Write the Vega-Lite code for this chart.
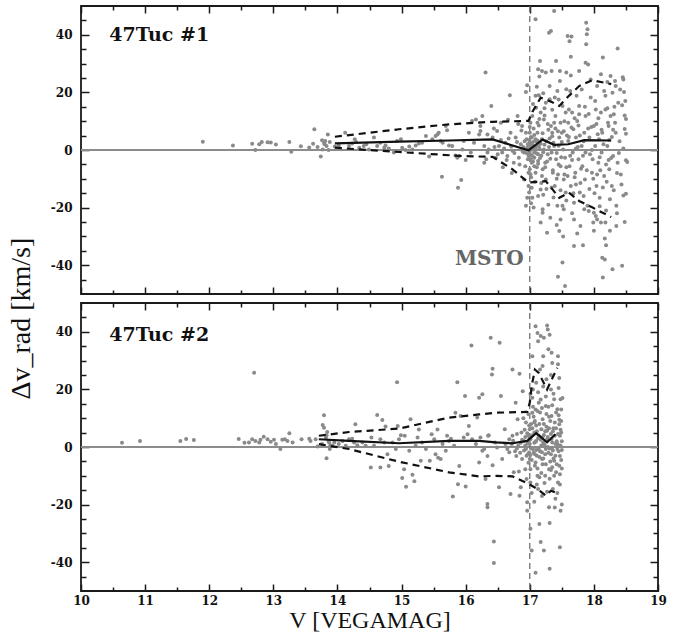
{
"$schema": "https://vega.github.io/schema/vega-lite/v6.json",
"padding": {"left": 8, "top": 4, "right": 5, "bottom": 5},
"background": "white",
"title": {"text": "Δv_rad [km/s]", "orient": "left", "anchor": "middle", "font": "Liberation Serif", "fontSize": 28, "fontWeight": "normal", "color": "#111", "offset": 13},
"spacing": 5,
"datasets": {
"pts": [
{"p":1,"V":11.90,"dv":2.9},{"p":1,"V":12.37,"dv":1.6},{"p":1,"V":12.67,"dv":2.2},{"p":1,"V":12.72,"dv":0.0},{"p":1,"V":12.78,"dv":2.0},{"p":1,"V":12.82,"dv":2.8},{"p":1,"V":12.91,"dv":2.7},{"p":1,"V":12.96,"dv":2.6},{"p":1,"V":13.04,"dv":1.9},{"p":1,"V":13.25,"dv":2.8},{"p":1,"V":13.28,"dv":-0.6},{"p":1,"V":13.43,"dv":1.3},{"p":1,"V":13.56,"dv":0.9},{"p":1,"V":13.62,"dv":2.2},{"p":1,"V":13.64,"dv":7.2},{"p":1,"V":13.69,"dv":1.0},{"p":1,"V":13.74,"dv":-2.3},{"p":1,"V":13.76,"dv":3.4},{"p":1,"V":13.77,"dv":0.2},{"p":1,"V":13.79,"dv":2.5},{"p":1,"V":13.80,"dv":2.0},{"p":1,"V":13.81,"dv":3.1},{"p":1,"V":13.83,"dv":1.4},{"p":1,"V":13.85,"dv":5.4},{"p":1,"V":13.86,"dv":0.0},{"p":1,"V":13.88,"dv":2.8},{"p":1,"V":13.96,"dv":1.2},{"p":1,"V":14.02,"dv":1.6},{"p":1,"V":14.12,"dv":6.0},{"p":1,"V":14.18,"dv":1.4},{"p":1,"V":14.23,"dv":2.3},{"p":1,"V":14.27,"dv":3.7},{"p":1,"V":14.29,"dv":2.8},{"p":1,"V":14.34,"dv":0.8},{"p":1,"V":14.41,"dv":1.4},{"p":1,"V":14.45,"dv":2.0},{"p":1,"V":14.49,"dv":0.2},{"p":1,"V":14.57,"dv":4.3},{"p":1,"V":14.62,"dv":1.4},{"p":1,"V":14.67,"dv":2.5},{"p":1,"V":14.73,"dv":0.8},{"p":1,"V":14.75,"dv":1.6},{"p":1,"V":14.80,"dv":0.5},{"p":1,"V":14.88,"dv":-0.9},{"p":1,"V":14.93,"dv":3.1},{"p":1,"V":14.99,"dv":3.7},{"p":1,"V":15.01,"dv":0.8},{"p":1,"V":15.06,"dv":0.0},{"p":1,"V":15.12,"dv":1.2},{"p":1,"V":15.17,"dv":0.2},{"p":1,"V":15.22,"dv":1.6},{"p":1,"V":15.27,"dv":2.3},{"p":1,"V":15.32,"dv":2.5},{"p":1,"V":15.38,"dv":4.9},{"p":1,"V":15.43,"dv":-2.3},{"p":1,"V":15.48,"dv":3.7},{"p":1,"V":15.53,"dv":4.9},{"p":1,"V":15.56,"dv":5.4},{"p":1,"V":15.58,"dv":6.0},{"p":1,"V":15.61,"dv":3.1},{"p":1,"V":15.63,"dv":-9.3},{"p":1,"V":15.64,"dv":2.5},{"p":1,"V":15.69,"dv":8.3},{"p":1,"V":15.71,"dv":6.9},{"p":1,"V":15.74,"dv":1.6},{"p":1,"V":15.79,"dv":1.4},{"p":1,"V":15.84,"dv":-1.9},{"p":1,"V":15.87,"dv":-2.7},{"p":1,"V":15.88,"dv":-13.1},{"p":1,"V":15.90,"dv":-2.1},{"p":1,"V":15.93,"dv":-10.4},{"p":1,"V":15.95,"dv":0.2},{"p":1,"V":15.97,"dv":3.1},{"p":1,"V":16.00,"dv":-3.5},{"p":1,"V":16.05,"dv":6.0},{"p":1,"V":16.08,"dv":-0.9},{"p":1,"V":16.10,"dv":10.1},{"p":1,"V":16.13,"dv":2.5},{"p":1,"V":16.16,"dv":10.6},{"p":1,"V":16.21,"dv":5.4},{"p":1,"V":16.23,"dv":6.6},{"p":1,"V":16.26,"dv":11.8},{"p":1,"V":16.29,"dv":1.4},{"p":1,"V":16.31,"dv":26.9},{"p":1,"V":16.32,"dv":-3.2},{"p":1,"V":16.34,"dv":-0.9},
{"p":1,"V":16.40,"dv":15.3},{"p":1,"V":16.23,"dv":8.3},{"p":1,"V":16.34,"dv":5.4},{"p":1,"V":16.42,"dv":4.3},{"p":1,"V":16.49,"dv":6.6},{"p":1,"V":16.52,"dv":1.4},{"p":1,"V":16.57,"dv":-0.9},{"p":1,"V":16.62,"dv":2.5},{"p":1,"V":16.69,"dv":19.0},{"p":1,"V":16.70,"dv":6.0},{"p":1,"V":16.73,"dv":-0.3},{"p":1,"V":16.75,"dv":-4.4},{"p":1,"V":16.78,"dv":4.3},{"p":1,"V":16.81,"dv":11.8},{"p":1,"V":16.83,"dv":-2.7},{"p":1,"V":16.86,"dv":2.0},{"p":1,"V":16.88,"dv":8.3},{"p":1,"V":16.91,"dv":-0.9},{"p":1,"V":16.93,"dv":-5.6},{"p":1,"V":16.94,"dv":20.1},{"p":1,"V":16.94,"dv":-19.4},{"p":1,"V":16.95,"dv":3.7},{"p":1,"V":16.96,"dv":22.5},{"p":1,"V":16.96,"dv":0.8},{"p":1,"V":16.97,"dv":-3.2},{"p":1,"V":16.98,"dv":-7.9},{"p":1,"V":16.98,"dv":-12.5},{"p":1,"V":16.96,"dv":-16.6},{"p":1,"V":16.94,"dv":6.0},{"p":1,"V":16.91,"dv":-10.2},{"p":1,"V":16.36,"dv":0.2},{"p":1,"V":16.47,"dv":-2.7},{"p":1,"V":16.29,"dv":-4.4},{"p":1,"V":16.55,"dv":9.5},{"p":1,"V":16.65,"dv":-2.1},
{"p":1,"V":17.00,"dv":6.0},{"p":1,"V":17.00,"dv":2.5},{"p":1,"V":17.01,"dv":0.2},{"p":1,"V":17.00,"dv":-1.5},{"p":1,"V":17.01,"dv":-3.2},{"p":1,"V":17.03,"dv":-4.4},{"p":1,"V":17.00,"dv":-6.7},{"p":1,"V":17.01,"dv":-8.4},{"p":1,"V":17.03,"dv":-13.1},{"p":1,"V":16.99,"dv":-14.8},{"p":1,"V":17.04,"dv":-16.6},{"p":1,"V":17.01,"dv":9.5},{"p":1,"V":17.04,"dv":11.8},{"p":1,"V":17.03,"dv":4.3},{"p":1,"V":17.05,"dv":1.4},{"p":1,"V":17.07,"dv":-0.9},{"p":1,"V":17.07,"dv":-2.7},{"p":1,"V":17.07,"dv":-5.6},{"p":1,"V":17.09,"dv":3.7},{"p":1,"V":17.09,"dv":0.8},{"p":1,"V":17.09,"dv":-7.9},{"p":1,"V":17.09,"dv":45.4},{"p":1,"V":17.09,"dv":18.8},{"p":1,"V":17.10,"dv":14.7},{"p":1,"V":17.12,"dv":9.5},{"p":1,"V":17.12,"dv":6.0},{"p":1,"V":17.13,"dv":-1.5},{"p":1,"V":17.13,"dv":-3.8},{"p":1,"V":17.13,"dv":28.0},{"p":1,"V":17.14,"dv":19.0},{"p":1,"V":17.14,"dv":1.4},{"p":1,"V":17.16,"dv":30.9},{"p":1,"V":17.15,"dv":25.5},{"p":1,"V":17.17,"dv":-25.2},{"p":1,"V":17.17,"dv":13.0},{"p":1,"V":17.17,"dv":-13.7},{"p":1,"V":17.19,"dv":27.4},{"p":1,"V":17.19,"dv":3.7},{"p":1,"V":17.20,"dv":-20.6},{"p":1,"V":17.20,"dv":-21.8},{"p":1,"V":17.20,"dv":-6.7},{"p":1,"V":17.21,"dv":19.7},{"p":1,"V":17.22,"dv":10.6},{"p":1,"V":17.22,"dv":0.2},{"p":1,"V":17.24,"dv":-4.4},{"p":1,"V":17.25,"dv":26.9},{"p":1,"V":17.25,"dv":16.4},{"p":1,"V":17.25,"dv":-10.2},
{"p":1,"V":17.27,"dv":-28.7},{"p":1,"V":17.30,"dv":40.7},{"p":1,"V":17.31,"dv":22.2},{"p":1,"V":17.31,"dv":17.6},{"p":1,"V":17.33,"dv":41.3},{"p":1,"V":17.34,"dv":27.4},{"p":1,"V":17.33,"dv":8.3},{"p":1,"V":17.34,"dv":-0.9},{"p":1,"V":17.35,"dv":6.0},{"p":1,"V":17.36,"dv":-7.9},{"p":1,"V":17.38,"dv":48.3},{"p":1,"V":17.38,"dv":1.4},{"p":1,"V":17.39,"dv":18.2},{"p":1,"V":17.39,"dv":-12.5},{"p":1,"V":17.40,"dv":11.8},{"p":1,"V":17.41,"dv":30.9},{"p":1,"V":17.41,"dv":-3.2},{"p":1,"V":17.43,"dv":20.5},{"p":1,"V":17.43,"dv":-19.4},{"p":1,"V":17.44,"dv":-44.0},{"p":1,"V":17.46,"dv":-28.1},{"p":1,"V":17.46,"dv":4.3},{"p":1,"V":17.47,"dv":24.0},{"p":1,"V":17.47,"dv":27.4},{"p":1,"V":17.48,"dv":-5.6},{"p":1,"V":17.48,"dv":9.5},{"p":1,"V":17.51,"dv":15.3},{"p":1,"V":17.51,"dv":-19.4},{"p":1,"V":17.51,"dv":-39.1},{"p":1,"V":17.52,"dv":0.2},{"p":1,"V":17.53,"dv":-20.6},{"p":1,"V":17.53,"dv":-10.2},{"p":1,"V":17.55,"dv":-47.2},{"p":1,"V":17.56,"dv":13.0},{"p":1,"V":17.57,"dv":21.1},{"p":1,"V":17.57,"dv":26.9},{"p":1,"V":17.55,"dv":-2.7},{"p":1,"V":17.56,"dv":-14.8},{"p":1,"V":17.48,"dv":-24.1},
{"p":1,"V":17.59,"dv":39.6},{"p":1,"V":17.60,"dv":3.1},{"p":1,"V":17.61,"dv":14.1},{"p":1,"V":17.62,"dv":37.8},{"p":1,"V":17.62,"dv":-5.6},{"p":1,"V":17.64,"dv":32.4},{"p":1,"V":17.64,"dv":25.9},{"p":1,"V":17.64,"dv":-12.5},{"p":1,"V":17.65,"dv":39.4},{"p":1,"V":17.65,"dv":7.8},{"p":1,"V":17.66,"dv":13.0},{"p":1,"V":17.67,"dv":-0.9},{"p":1,"V":17.69,"dv":-33.3},{"p":1,"V":17.69,"dv":-24.1},{"p":1,"V":17.69,"dv":-18.3},{"p":1,"V":17.71,"dv":-7.9},{"p":1,"V":17.72,"dv":4.3},{"p":1,"V":17.73,"dv":18.8},{"p":1,"V":17.74,"dv":10.1},{"p":1,"V":17.76,"dv":-3.2},{"p":1,"V":17.77,"dv":27.4},{"p":1,"V":17.77,"dv":15.3},{"p":1,"V":17.77,"dv":12.4},{"p":1,"V":17.78,"dv":-14.8},{"p":1,"V":17.79,"dv":-26.4},{"p":1,"V":17.81,"dv":1.4},{"p":1,"V":17.82,"dv":-5.6},{"p":1,"V":17.83,"dv":-33.1},{"p":1,"V":17.85,"dv":6.0},{"p":1,"V":17.85,"dv":-20.6},{"p":1,"V":17.86,"dv":-10.2},{"p":1,"V":17.87,"dv":30.3},{"p":1,"V":17.87,"dv":11.8},{"p":1,"V":17.87,"dv":-0.9},
{"p":1,"V":17.88,"dv":44.2},{"p":1,"V":17.90,"dv":41.9},{"p":1,"V":17.89,"dv":40.2},{"p":1,"V":17.88,"dv":36.7},{"p":1,"V":17.91,"dv":29.7},{"p":1,"V":17.90,"dv":-19.4},{"p":1,"V":17.92,"dv":-21.2},{"p":1,"V":17.93,"dv":4.3},{"p":1,"V":17.95,"dv":18.2},{"p":1,"V":17.97,"dv":-7.9},{"p":1,"V":17.98,"dv":-3.2},{"p":1,"V":17.99,"dv":-25.2},{"p":1,"V":18.00,"dv":-21.8},{"p":1,"V":18.00,"dv":8.3},{"p":1,"V":18.02,"dv":1.4},{"p":1,"V":18.03,"dv":14.1},{"p":1,"V":18.03,"dv":-22.9},{"p":1,"V":18.04,"dv":-12.5},{"p":1,"V":18.05,"dv":-24.1},{"p":1,"V":18.05,"dv":22.2},{"p":1,"V":18.07,"dv":-4.4},{"p":1,"V":18.08,"dv":3.7},{"p":1,"V":18.09,"dv":-16.6},{"p":1,"V":18.11,"dv":26.3},{"p":1,"V":18.11,"dv":13.0},{"p":1,"V":18.11,"dv":-25.2},{"p":1,"V":18.12,"dv":-0.9},{"p":1,"V":18.13,"dv":-37.4},{"p":1,"V":18.14,"dv":32.1},{"p":1,"V":18.14,"dv":-44.3},{"p":1,"V":18.16,"dv":-9.0},{"p":1,"V":18.17,"dv":-30.7},{"p":1,"V":18.17,"dv":-38.0},{"p":1,"V":18.18,"dv":14.1},{"p":1,"V":18.18,"dv":-25.2},{"p":1,"V":18.18,"dv":18.8},
{"p":1,"V":18.19,"dv":-33.1},{"p":1,"V":18.21,"dv":23.6},{"p":1,"V":18.21,"dv":1.4},{"p":1,"V":18.23,"dv":8.3},{"p":1,"V":18.24,"dv":-6.7},{"p":1,"V":18.25,"dv":-17.1},{"p":1,"V":18.26,"dv":25.7},{"p":1,"V":18.26,"dv":11.8},{"p":1,"V":18.28,"dv":-12.5},{"p":1,"V":18.29,"dv":-41.4},{"p":1,"V":18.29,"dv":19.9},{"p":1,"V":18.30,"dv":-2.1},{"p":1,"V":18.31,"dv":12.4},{"p":1,"V":18.33,"dv":24.0},{"p":1,"V":18.34,"dv":22.2},{"p":1,"V":18.34,"dv":6.0},{"p":1,"V":18.35,"dv":-19.4},{"p":1,"V":18.35,"dv":-26.4},{"p":1,"V":18.37,"dv":35.2},{"p":1,"V":18.37,"dv":-4.4},{"p":1,"V":18.38,"dv":16.4},{"p":1,"V":18.45,"dv":25.3},{"p":1,"V":18.46,"dv":24.5},{"p":1,"V":18.47,"dv":20.1},{"p":1,"V":18.48,"dv":12.0},{"p":1,"V":18.50,"dv":10.8},{"p":1,"V":18.48,"dv":7.3},{"p":1,"V":18.50,"dv":5.6},{"p":1,"V":18.46,"dv":0.5},{"p":1,"V":18.50,"dv":-3.6},{"p":1,"V":18.52,"dv":-4.2},{"p":1,"V":18.50,"dv":-15.2},{"p":1,"V":18.46,"dv":-15.8},{"p":1,"V":18.44,"dv":-40.2},
{"p":1,"V":16.90,"dv":1.0},{"p":1,"V":16.92,"dv":3.0},{"p":1,"V":16.95,"dv":-1.0},{"p":1,"V":16.97,"dv":2.0},{"p":1,"V":16.98,"dv":-2.0},{"p":1,"V":16.99,"dv":0.5},{"p":1,"V":17.00,"dv":-0.5},{"p":1,"V":17.01,"dv":1.5},{"p":1,"V":17.02,"dv":4.5},{"p":1,"V":17.03,"dv":-1.8},{"p":1,"V":17.04,"dv":0.8},{"p":1,"V":17.05,"dv":2.8},{"p":1,"V":17.06,"dv":-2.5},{"p":1,"V":17.07,"dv":5.2},{"p":1,"V":17.08,"dv":-0.2},{"p":1,"V":17.09,"dv":1.2},{"p":1,"V":17.11,"dv":-1.2},{"p":1,"V":17.12,"dv":3.3},{"p":1,"V":17.13,"dv":-4.8},{"p":1,"V":17.15,"dv":0.5},{"p":1,"V":17.17,"dv":2.2},{"p":1,"V":17.18,"dv":-2.0},{"p":1,"V":17.20,"dv":5.8},{"p":1,"V":17.21,"dv":-0.8},{"p":1,"V":17.23,"dv":1.8},{"p":1,"V":17.24,"dv":-6.0},{"p":1,"V":17.26,"dv":3.0},{"p":1,"V":17.28,"dv":-1.5},{"p":1,"V":17.29,"dv":7.0},{"p":1,"V":17.32,"dv":-3.0},{"p":1,"V":17.35,"dv":4.8},{"p":1,"V":17.36,"dv":-7.0},{"p":1,"V":17.37,"dv":2.5},{"p":1,"V":17.42,"dv":-1.0},{"p":1,"V":17.44,"dv":6.5},{"p":1,"V":17.45,"dv":-5.0},{"p":1,"V":17.50,"dv":2.8},{"p":1,"V":17.54,"dv":-8.5},{"p":1,"V":17.58,"dv":5.0},{"p":1,"V":17.63,"dv":-2.0},{"p":1,"V":17.68,"dv":7.2},{"p":1,"V":17.70,"dv":-9.5},{"p":1,"V":17.75,"dv":1.0},{"p":1,"V":17.80,"dv":-6.5},{"p":1,"V":17.84,"dv":3.0},{"p":1,"V":17.94,"dv":-1.5},{"p":1,"V":17.96,"dv":8.0},{"p":1,"V":18.01,"dv":-15.0},{"p":1,"V":18.06,"dv":5.5},{"p":1,"V":18.10,"dv":-7.0},{"p":1,"V":18.15,"dv":2.0},{"p":1,"V":18.20,"dv":-11.0},{"p":1,"V":18.22,"dv":9.5},{"p":1,"V":18.27,"dv":-2.8},{"p":1,"V":18.32,"dv":15.0},{"p":1,"V":18.36,"dv":-8.0},{"p":1,"V":18.40,"dv":3.0},{"p":1,"V":16.45,"dv":1.0},{"p":1,"V":16.50,"dv":-1.5},{"p":1,"V":16.55,"dv":3.5},{"p":1,"V":16.60,"dv":0.5},{"p":1,"V":16.64,"dv":-3.5},{"p":1,"V":16.67,"dv":4.0},{"p":1,"V":16.71,"dv":1.2},{"p":1,"V":16.76,"dv":-1.0},{"p":1,"V":16.80,"dv":2.8},{"p":1,"V":16.84,"dv":-5.0},{"p":1,"V":16.87,"dv":6.8},{"p":1,"V":16.89,"dv":-0.5},{"p":1,"V":16.44,"dv":7.5},{"p":1,"V":16.58,"dv":-6.0},{"p":1,"V":16.66,"dv":10.5},{"p":1,"V":16.72,"dv":-8.0},{"p":1,"V":16.82,"dv":9.0},
{"p":1,"V":16.99,"dv":3.5},{"p":1,"V":17.00,"dv":8.0},{"p":1,"V":17.02,"dv":-9.5},{"p":1,"V":17.03,"dv":2.0},{"p":1,"V":17.05,"dv":-4.0},{"p":1,"V":17.06,"dv":7.5},{"p":1,"V":17.08,"dv":-11.0},{"p":1,"V":17.10,"dv":3.0},{"p":1,"V":17.11,"dv":-6.0},{"p":1,"V":17.14,"dv":8.5},{"p":1,"V":17.16,"dv":-2.8},{"p":1,"V":17.19,"dv":-9.0},{"p":1,"V":17.23,"dv":12.0},{"p":1,"V":17.27,"dv":-4.0},{"p":1,"V":17.30,"dv":1.0},{"p":1,"V":17.34,"dv":-13.0},{"p":1,"V":17.38,"dv":9.5},{"p":1,"V":17.42,"dv":-10.0},{"p":1,"V":17.45,"dv":1.5},{"p":1,"V":17.49,"dv":-2.5},{"p":1,"V":17.53,"dv":6.5},{"p":1,"V":17.57,"dv":-6.0},{"p":1,"V":17.60,"dv":9.5},{"p":1,"V":17.66,"dv":-3.5},{"p":1,"V":17.72,"dv":-12.0},{"p":1,"V":17.78,"dv":5.0},{"p":1,"V":17.83,"dv":-2.0},{"p":1,"V":17.92,"dv":12.5},{"p":1,"V":17.99,"dv":-10.0},{"p":1,"V":18.04,"dv":9.0},{"p":1,"V":18.09,"dv":-2.5},{"p":1,"V":18.13,"dv":6.0},{"p":1,"V":18.19,"dv":-5.0},{"p":1,"V":18.24,"dv":3.5},{"p":1,"V":18.30,"dv":7.0},{"p":1,"V":18.42,"dv":-8.5},{"p":1,"V":18.44,"dv":15.5},
{"p":1,"V":17.02,"dv":-18.5},{"p":1,"V":17.05,"dv":16.0},{"p":1,"V":17.06,"dv":-20.0},{"p":1,"V":17.11,"dv":22.0},{"p":1,"V":17.13,"dv":-16.0},{"p":1,"V":17.15,"dv":10.8},{"p":1,"V":17.18,"dv":-11.5},{"p":1,"V":17.21,"dv":-15.5},{"p":1,"V":17.23,"dv":14.5},{"p":1,"V":17.26,"dv":-13.5},{"p":1,"V":17.28,"dv":9.0},{"p":1,"V":17.29,"dv":-19.0},{"p":1,"V":17.31,"dv":4.0},{"p":1,"V":17.32,"dv":-23.5},{"p":1,"V":17.35,"dv":14.0},{"p":1,"V":17.37,"dv":-16.5},{"p":1,"V":17.40,"dv":7.5},{"p":1,"V":17.42,"dv":-26.0},{"p":1,"V":17.44,"dv":-8.5},{"p":1,"V":17.45,"dv":17.5},{"p":1,"V":17.48,"dv":-14.0},{"p":1,"V":17.50,"dv":6.0},{"p":1,"V":17.52,"dv":-30.0},{"p":1,"V":17.54,"dv":10.0},{"p":1,"V":17.57,"dv":-17.5},{"p":1,"V":17.59,"dv":-9.0},{"p":1,"V":17.61,"dv":4.5},{"p":1,"V":17.63,"dv":20.5},{"p":1,"V":17.66,"dv":-22.0},{"p":1,"V":17.68,"dv":-15.0},{"p":1,"V":17.70,"dv":11.0},{"p":1,"V":17.72,"dv":0.5},{"p":1,"V":17.74,"dv":-29.0},{"p":1,"V":17.76,"dv":8.5},{"p":1,"V":17.79,"dv":-11.5},{"p":1,"V":17.81,"dv":21.0},{"p":1,"V":17.84,"dv":-16.0},{"p":1,"V":17.86,"dv":15.0},{"p":1,"V":17.89,"dv":-7.0},{"p":1,"V":17.91,"dv":7.5},{"p":1,"V":17.93,"dv":-13.5},{"p":1,"V":17.95,"dv":24.5},{"p":1,"V":17.97,"dv":0.0},{"p":1,"V":18.00,"dv":-28.0},{"p":1,"V":18.02,"dv":17.0},{"p":1,"V":18.05,"dv":-8.5},{"p":1,"V":18.07,"dv":11.0},{"p":1,"V":18.09,"dv":-19.5},{"p":1,"V":18.12,"dv":7.0},{"p":1,"V":18.14,"dv":-13.0},{"p":1,"V":18.16,"dv":20.5},{"p":1,"V":18.19,"dv":-21.0},{"p":1,"V":18.21,"dv":14.5},{"p":1,"V":18.23,"dv":-3.5},{"p":1,"V":18.25,"dv":-28.0},{"p":1,"V":18.28,"dv":4.5},{"p":1,"V":18.31,"dv":-14.0},{"p":1,"V":18.33,"dv":9.5},{"p":1,"V":18.36,"dv":-22.0},{"p":1,"V":18.39,"dv":-1.0},{"p":1,"V":18.41,"dv":21.0},{"p":1,"V":18.43,"dv":-12.0},{"p":1,"V":18.48,"dv":-25.0},{"p":1,"V":18.49,"dv":17.0},
{"p":2,"V":10.64,"dv":1.5},{"p":2,"V":10.92,"dv":2.1},{"p":2,"V":11.55,"dv":2.1},{"p":2,"V":11.64,"dv":2.8},{"p":2,"V":11.76,"dv":2.4},{"p":2,"V":12.46,"dv":2.8},{"p":2,"V":12.55,"dv":1.5},
{"p":2,"V":12.70,"dv":25.8},{"p":2,"V":12.62,"dv":1.6},{"p":2,"V":12.67,"dv":2.7},{"p":2,"V":12.72,"dv":2.1},{"p":2,"V":12.78,"dv":1.6},{"p":2,"V":12.80,"dv":2.5},{"p":2,"V":12.85,"dv":3.6},{"p":2,"V":12.91,"dv":2.7},{"p":2,"V":12.96,"dv":1.8},{"p":2,"V":13.01,"dv":2.5},{"p":2,"V":13.04,"dv":1.0},{"p":2,"V":13.11,"dv":-0.7},{"p":2,"V":13.14,"dv":2.5},{"p":2,"V":13.18,"dv":2.7},{"p":2,"V":13.22,"dv":2.1},{"p":2,"V":13.25,"dv":4.8},{"p":2,"V":13.30,"dv":1.6},{"p":2,"V":13.44,"dv":2.7},{"p":2,"V":13.56,"dv":2.9},{"p":2,"V":13.58,"dv":2.1},{"p":2,"V":13.66,"dv":2.7},{"p":2,"V":13.69,"dv":0.2},{"p":2,"V":13.76,"dv":1.0},{"p":2,"V":13.79,"dv":11.0},{"p":2,"V":13.77,"dv":7.6},{"p":2,"V":13.79,"dv":6.7},{"p":2,"V":13.82,"dv":3.3},{"p":2,"V":13.83,"dv":4.1},{"p":2,"V":13.84,"dv":5.2},{"p":2,"V":13.86,"dv":2.1},{"p":2,"V":13.87,"dv":1.6},{"p":2,"V":13.83,"dv":-3.9},{"p":2,"V":13.88,"dv":-0.7},{"p":2,"V":13.89,"dv":0.6},{"p":2,"V":13.92,"dv":0.4},{"p":2,"V":13.95,"dv":1.6},{"p":2,"V":14.02,"dv":1.0},{"p":2,"V":14.08,"dv":2.1},{"p":2,"V":14.13,"dv":0.4},{"p":2,"V":14.18,"dv":2.7},{"p":2,"V":14.23,"dv":2.9},{"p":2,"V":14.28,"dv":7.9},{"p":2,"V":14.26,"dv":1.6},{"p":2,"V":14.31,"dv":0.6},{"p":2,"V":14.39,"dv":1.6},{"p":2,"V":14.44,"dv":0.4},{"p":2,"V":14.52,"dv":-7.1},{"p":2,"V":14.53,"dv":3.3},{"p":2,"V":14.57,"dv":0.4},{"p":2,"V":14.62,"dv":11.1},{"p":2,"V":14.67,"dv":-7.1},{"p":2,"V":14.67,"dv":2.7},{"p":2,"V":14.70,"dv":9.4},{"p":2,"V":14.73,"dv":1.6},{"p":2,"V":14.75,"dv":7.1},{"p":2,"V":14.78,"dv":-2.5},{"p":2,"V":14.80,"dv":-6.6},{"p":2,"V":14.86,"dv":1.6},{"p":2,"V":14.91,"dv":-0.7},{"p":2,"V":14.93,"dv":22.5},{"p":2,"V":14.94,"dv":7.3},{"p":2,"V":14.96,"dv":2.7},{"p":2,"V":14.99,"dv":4.1},{"p":2,"V":15.01,"dv":-10.8},{"p":2,"V":15.04,"dv":-7.7},{"p":2,"V":15.05,"dv":3.9},{"p":2,"V":15.07,"dv":-13.8},{"p":2,"V":15.12,"dv":-1.3},{"p":2,"V":15.14,"dv":9.6},{"p":2,"V":15.17,"dv":-9.6},{"p":2,"V":15.20,"dv":-11.9},{"p":2,"V":15.22,"dv":0.4},{"p":2,"V":15.25,"dv":3.3},{"p":2,"V":15.27,"dv":6.1},{"p":2,"V":15.30,"dv":-4.8},{"p":2,"V":15.32,"dv":1.6},{"p":2,"V":15.38,"dv":-0.7},{"p":2,"V":15.44,"dv":-4.8},{"p":2,"V":15.47,"dv":4.4},{"p":2,"V":15.51,"dv":2.7},{"p":2,"V":15.53,"dv":-2.5},{"p":2,"V":15.56,"dv":6.1},{"p":2,"V":15.57,"dv":-3.7},{"p":2,"V":15.61,"dv":-4.2},{"p":2,"V":15.64,"dv":1.0},{"p":2,"V":15.69,"dv":-1.3},{"p":2,"V":15.71,"dv":3.9},{"p":2,"V":15.74,"dv":2.1},{"p":2,"V":15.77,"dv":2.9},{"p":2,"V":15.80,"dv":-17.2},{"p":2,"V":15.82,"dv":0.4},{"p":2,"V":15.84,"dv":11.9},{"p":2,"V":15.87,"dv":22.5},{"p":2,"V":15.88,"dv":-12.9},{"p":2,"V":15.90,"dv":-6.6},{"p":2,"V":15.92,"dv":10.8},{"p":2,"V":15.97,"dv":3.3},{"p":2,"V":15.99,"dv":17.7},{"p":2,"V":16.00,"dv":-13.7},{"p":2,"V":16.03,"dv":4.4},{"p":2,"V":16.05,"dv":7.3},{"p":2,"V":16.09,"dv":35.2},{"p":2,"V":16.10,"dv":2.7},{"p":2,"V":16.16,"dv":1.0},{"p":2,"V":16.18,"dv":10.2},{"p":2,"V":16.21,"dv":17.1},{"p":2,"V":16.23,"dv":3.3},{"p":2,"V":16.26,"dv":18.3},{"p":2,"V":16.29,"dv":-0.7},{"p":2,"V":16.31,"dv":-11.1},{"p":2,"V":16.34,"dv":-19.8},{"p":2,"V":16.34,"dv":-20.9},{"p":2,"V":16.35,"dv":3.9},
{"p":2,"V":16.39,"dv":37.9},{"p":2,"V":16.53,"dv":36.2},{"p":2,"V":16.44,"dv":-32.8},{"p":2,"V":16.44,"dv":-40.3},{"p":2,"V":16.42,"dv":27.2},{"p":2,"V":16.41,"dv":25.2},{"p":2,"V":16.73,"dv":26.9},{"p":2,"V":16.84,"dv":25.4},{"p":2,"V":16.55,"dv":17.7},{"p":2,"V":16.52,"dv":-14.0},{"p":2,"V":16.42,"dv":-6.3},{"p":2,"V":16.21,"dv":-5.4},{"p":2,"V":16.26,"dv":-1.3},{"p":2,"V":16.34,"dv":-3.1},{"p":2,"V":16.36,"dv":4.1},{"p":2,"V":16.46,"dv":1.6},{"p":2,"V":16.49,"dv":-0.2},{"p":2,"V":16.57,"dv":-4.2},{"p":2,"V":16.61,"dv":6.2},{"p":2,"V":16.65,"dv":-0.7},{"p":2,"V":16.68,"dv":2.7},{"p":2,"V":16.70,"dv":-16.3},{"p":2,"V":16.73,"dv":3.9},{"p":2,"V":16.75,"dv":-8.8},{"p":2,"V":16.78,"dv":15.4},{"p":2,"V":16.79,"dv":-3.1},{"p":2,"V":16.81,"dv":9.6},{"p":2,"V":16.82,"dv":0.4},{"p":2,"V":16.84,"dv":-16.9},{"p":2,"V":16.86,"dv":-14.0},{"p":2,"V":16.87,"dv":5.0},{"p":2,"V":16.88,"dv":-4.2},{"p":2,"V":16.89,"dv":19.4},{"p":2,"V":16.91,"dv":2.1},{"p":2,"V":16.93,"dv":-7.7},{"p":2,"V":16.94,"dv":-0.7},{"p":2,"V":16.94,"dv":8.5},{"p":2,"V":16.95,"dv":-11.1},{"p":2,"V":16.96,"dv":-19.2},{"p":2,"V":16.96,"dv":-22.1},{"p":2,"V":16.98,"dv":11.4},{"p":2,"V":16.98,"dv":3.9},{"p":2,"V":16.99,"dv":-1.9},
{"p":2,"V":17.00,"dv":-4.2},{"p":2,"V":17.00,"dv":6.2},{"p":2,"V":17.00,"dv":1.0},{"p":2,"V":17.01,"dv":2.7},{"p":2,"V":17.01,"dv":-7.7},{"p":2,"V":17.01,"dv":-12.3},{"p":2,"V":17.01,"dv":-28.4},{"p":2,"V":17.03,"dv":-35.9},{"p":2,"V":17.04,"dv":31.5},{"p":2,"V":17.04,"dv":17.1},{"p":2,"V":17.04,"dv":11.9},{"p":2,"V":17.05,"dv":-0.7},{"p":2,"V":17.07,"dv":8.5},{"p":2,"V":17.07,"dv":5.0},{"p":2,"V":17.08,"dv":-2.5},{"p":2,"V":17.09,"dv":41.9},{"p":2,"V":17.09,"dv":-5.4},{"p":2,"V":17.09,"dv":-43.7},{"p":2,"V":17.10,"dv":22.3},{"p":2,"V":17.10,"dv":2.1},{"p":2,"V":17.12,"dv":39.6},{"p":2,"V":17.12,"dv":-10.0},{"p":2,"V":17.13,"dv":36.7},{"p":2,"V":17.13,"dv":-14.6},{"p":2,"V":17.14,"dv":15.4},{"p":2,"V":17.14,"dv":-0.7},{"p":2,"V":17.15,"dv":-26.7},{"p":2,"V":17.16,"dv":26.9},{"p":2,"V":17.17,"dv":-33.0},{"p":2,"V":17.17,"dv":38.5},{"p":2,"V":17.18,"dv":6.2},{"p":2,"V":17.19,"dv":-4.2},{"p":2,"V":17.20,"dv":28.1},{"p":2,"V":17.20,"dv":9.6},{"p":2,"V":17.21,"dv":31.5},{"p":2,"V":17.21,"dv":1.6},{"p":2,"V":17.22,"dv":37.9},{"p":2,"V":17.22,"dv":-35.9},{"p":2,"V":17.24,"dv":-10.0},{"p":2,"V":17.25,"dv":14.2},{"p":2,"V":17.25,"dv":-0.7},{"p":2,"V":17.26,"dv":23.5},{"p":2,"V":17.27,"dv":42.2},{"p":2,"V":17.27,"dv":5.6},{"p":2,"V":17.28,"dv":40.8},{"p":2,"V":17.29,"dv":33.9},{"p":2,"V":17.30,"dv":-20.9},{"p":2,"V":17.30,"dv":-7.7},{"p":2,"V":17.31,"dv":-26.4},{"p":2,"V":17.31,"dv":-42.3},{"p":2,"V":17.31,"dv":39.0},{"p":2,"V":17.33,"dv":20.0},{"p":2,"V":17.33,"dv":-2.5},{"p":2,"V":17.34,"dv":32.7},{"p":2,"V":17.34,"dv":10.8},{"p":2,"V":17.35,"dv":29.2},{"p":2,"V":17.35,"dv":1.6},{"p":2,"V":17.36,"dv":-14.6},{"p":2,"V":17.38,"dv":-4.8},{"p":2,"V":17.38,"dv":16.6},{"p":2,"V":17.39,"dv":3.9},{"p":2,"V":17.40,"dv":-18.0},{"p":2,"V":17.41,"dv":-8.8},{"p":2,"V":17.43,"dv":-0.7},{"p":2,"V":17.43,"dv":13.1},{"p":2,"V":17.44,"dv":31.5},{"p":2,"V":17.44,"dv":28.7},{"p":2,"V":17.46,"dv":24.0},{"p":2,"V":17.46,"dv":7.9},{"p":2,"V":17.47,"dv":-34.8},{"p":2,"V":17.47,"dv":-3.1},{"p":2,"V":17.48,"dv":-22.1},{"p":2,"V":17.48,"dv":0.4},{"p":2,"V":17.46,"dv":-6.5},{"p":2,"V":17.44,"dv":-12.3},{"p":2,"V":17.48,"dv":16.6},{"p":2,"V":17.47,"dv":3.9},
{"p":2,"V":16.72,"dv":1.0},{"p":2,"V":16.77,"dv":-1.5},{"p":2,"V":16.80,"dv":4.5},{"p":2,"V":16.85,"dv":-2.0},{"p":2,"V":16.88,"dv":2.5},{"p":2,"V":16.92,"dv":6.0},{"p":2,"V":16.95,"dv":-3.0},{"p":2,"V":16.97,"dv":1.2},{"p":2,"V":16.99,"dv":7.5},{"p":2,"V":17.02,"dv":-0.5},{"p":2,"V":17.03,"dv":4.0},{"p":2,"V":17.06,"dv":-2.0},{"p":2,"V":17.08,"dv":9.0},{"p":2,"V":17.10,"dv":-1.0},{"p":2,"V":17.11,"dv":5.5},{"p":2,"V":17.13,"dv":3.0},{"p":2,"V":17.15,"dv":-3.5},{"p":2,"V":17.16,"dv":12.0},{"p":2,"V":17.18,"dv":0.5},{"p":2,"V":17.20,"dv":-6.0},{"p":2,"V":17.22,"dv":4.2},{"p":2,"V":17.24,"dv":-2.5},{"p":2,"V":17.26,"dv":7.0},{"p":2,"V":17.28,"dv":0.0},{"p":2,"V":17.30,"dv":10.5},{"p":2,"V":17.32,"dv":-5.0},{"p":2,"V":17.33,"dv":4.5},{"p":2,"V":17.36,"dv":-1.2},{"p":2,"V":17.37,"dv":6.5},{"p":2,"V":17.40,"dv":-3.0},{"p":2,"V":17.42,"dv":2.0},{"p":2,"V":17.45,"dv":11.0},{"p":2,"V":17.47,"dv":-9.5},{"p":2,"V":17.49,"dv":5.0},{"p":2,"V":17.50,"dv":-1.0},{"p":2,"V":17.38,"dv":-10.0},{"p":2,"V":17.12,"dv":-7.5},{"p":2,"V":17.05,"dv":14.0},{"p":2,"V":16.98,"dv":-5.5},{"p":2,"V":16.90,"dv":10.0},{"p":2,"V":16.83,"dv":-8.5},{"p":2,"V":16.93,"dv":3.5},{"p":2,"V":17.01,"dv":-2.8},{"p":2,"V":17.09,"dv":1.8},{"p":2,"V":17.19,"dv":-1.8},{"p":2,"V":17.27,"dv":2.6},{"p":2,"V":17.35,"dv":-0.3},{"p":2,"V":17.43,"dv":1.0},
{"p":2,"V":17.00,"dv":3.0},{"p":2,"V":17.02,"dv":8.0},{"p":2,"V":17.03,"dv":-4.5},{"p":2,"V":17.04,"dv":6.5},{"p":2,"V":17.06,"dv":10.5},{"p":2,"V":17.07,"dv":1.5},{"p":2,"V":17.08,"dv":-6.5},{"p":2,"V":17.10,"dv":7.5},{"p":2,"V":17.11,"dv":-3.0},{"p":2,"V":17.12,"dv":12.5},{"p":2,"V":17.14,"dv":4.0},{"p":2,"V":17.15,"dv":8.0},{"p":2,"V":17.16,"dv":-1.5},{"p":2,"V":17.17,"dv":2.5},{"p":2,"V":17.18,"dv":-9.0},{"p":2,"V":17.19,"dv":13.5},{"p":2,"V":17.20,"dv":3.5},{"p":2,"V":17.21,"dv":-4.0},{"p":2,"V":17.22,"dv":8.0},{"p":2,"V":17.23,"dv":0.8},{"p":2,"V":17.24,"dv":5.5},{"p":2,"V":17.25,"dv":-6.0},{"p":2,"V":17.26,"dv":11.5},{"p":2,"V":17.28,"dv":3.5},{"p":2,"V":17.29,"dv":-2.0},{"p":2,"V":17.30,"dv":6.5},{"p":2,"V":17.31,"dv":-0.5},{"p":2,"V":17.32,"dv":9.0},{"p":2,"V":17.33,"dv":-8.0},{"p":2,"V":17.34,"dv":2.8},{"p":2,"V":17.35,"dv":14.5},{"p":2,"V":17.36,"dv":5.5},{"p":2,"V":17.37,"dv":-4.0},{"p":2,"V":17.39,"dv":8.5},{"p":2,"V":17.40,"dv":1.0},{"p":2,"V":17.41,"dv":12.0},{"p":2,"V":17.42,"dv":-6.0},{"p":2,"V":17.44,"dv":4.5},{"p":2,"V":17.45,"dv":-1.5},{"p":2,"V":17.46,"dv":9.5},{"p":2,"V":17.47,"dv":0.5},{"p":2,"V":17.48,"dv":6.0},{"p":2,"V":17.49,"dv":-4.5},{"p":2,"V":17.50,"dv":2.0},{"p":2,"V":17.49,"dv":13.0},{"p":2,"V":16.96,"dv":4.8},{"p":2,"V":16.97,"dv":-2.5},{"p":2,"V":16.99,"dv":2.2},{"p":2,"V":16.93,"dv":0.5},{"p":2,"V":16.91,"dv":-1.2},{"p":2,"V":16.86,"dv":1.5},{"p":2,"V":16.80,"dv":-0.5},{"p":2,"V":16.74,"dv":2.2},{"p":2,"V":16.68,"dv":-1.8},{"p":2,"V":16.62,"dv":1.0},
{"p":2,"V":17.01,"dv":18.5},{"p":2,"V":17.03,"dv":-16.0},{"p":2,"V":17.05,"dv":20.0},{"p":2,"V":17.07,"dv":-19.0},{"p":2,"V":17.09,"dv":13.0},{"p":2,"V":17.11,"dv":-13.0},{"p":2,"V":17.13,"dv":19.0},{"p":2,"V":17.15,"dv":-10.5},{"p":2,"V":17.17,"dv":16.5},{"p":2,"V":17.19,"dv":-17.0},{"p":2,"V":17.21,"dv":21.0},{"p":2,"V":17.23,"dv":-12.5},{"p":2,"V":17.25,"dv":17.5},{"p":2,"V":17.27,"dv":-15.5},{"p":2,"V":17.29,"dv":14.0},{"p":2,"V":17.31,"dv":-11.0},{"p":2,"V":17.33,"dv":25.0},{"p":2,"V":17.35,"dv":-7.0},{"p":2,"V":17.37,"dv":18.5},{"p":2,"V":17.39,"dv":-21.0},{"p":2,"V":17.41,"dv":6.5},{"p":2,"V":17.43,"dv":-16.0},{"p":2,"V":17.45,"dv":20.5},{"p":2,"V":17.47,"dv":-13.0},{"p":2,"V":17.49,"dv":9.0},{"p":2,"V":17.50,"dv":-7.5},{"p":2,"V":17.51,"dv":17.0},{"p":2,"V":17.50,"dv":-20.0}
],
"lines": [
{"p":1,"s":"med","V":13.96,"dv":2.3},{"p":1,"s":"med","V":14.96,"dv":2.9},{"p":1,"s":"med","V":15.74,"dv":3.3},{"p":1,"s":"med","V":16.42,"dv":3.7},{"p":1,"s":"med","V":16.98,"dv":-0.1},{"p":1,"s":"med","V":17.2,"dv":3.6},{"p":1,"s":"med","V":17.38,"dv":1.8},{"p":1,"s":"med","V":17.6,"dv":2.0},{"p":1,"s":"med","V":17.85,"dv":3.4},{"p":1,"s":"med","V":18.27,"dv":3.3},
{"p":1,"s":"up","V":13.96,"dv":4.6},{"p":1,"s":"up","V":14.96,"dv":7.2},{"p":1,"s":"up","V":15.74,"dv":8.9},{"p":1,"s":"up","V":16.42,"dv":9.8},{"p":1,"s":"up","V":16.98,"dv":10.1},{"p":1,"s":"up","V":17.04,"dv":13.2},{"p":1,"s":"up","V":17.17,"dv":18.2},{"p":1,"s":"up","V":17.33,"dv":16.8},{"p":1,"s":"up","V":17.46,"dv":15.3},{"p":1,"s":"up","V":17.61,"dv":18.8},{"p":1,"s":"up","V":17.77,"dv":22.2},{"p":1,"s":"up","V":17.97,"dv":24.2},{"p":1,"s":"up","V":18.27,"dv":22.9},
{"p":1,"s":"lo","V":13.96,"dv":0.8},{"p":1,"s":"lo","V":14.96,"dv":-0.7},{"p":1,"s":"lo","V":15.95,"dv":-2.1},{"p":1,"s":"lo","V":16.42,"dv":-2.4},{"p":1,"s":"lo","V":16.73,"dv":-6.7},{"p":1,"s":"lo","V":16.98,"dv":-11.3},{"p":1,"s":"lo","V":17.25,"dv":-10.8},{"p":1,"s":"lo","V":17.46,"dv":-16.6},{"p":1,"s":"lo","V":17.61,"dv":-14.8},{"p":1,"s":"lo","V":17.77,"dv":-17.7},{"p":1,"s":"lo","V":17.98,"dv":-20.0},{"p":1,"s":"lo","V":18.27,"dv":-23.3},
{"p":2,"s":"med","V":13.71,"dv":2.7},{"p":2,"s":"med","V":14.18,"dv":2.1},{"p":2,"s":"med","V":14.96,"dv":1.3},{"p":2,"s":"med","V":15.74,"dv":2.1},{"p":2,"s":"med","V":16.21,"dv":2.1},{"p":2,"s":"med","V":16.47,"dv":1.6},{"p":2,"s":"med","V":16.73,"dv":1.3},{"p":2,"s":"med","V":16.96,"dv":2.1},{"p":2,"s":"med","V":17.10,"dv":4.8},{"p":2,"s":"med","V":17.27,"dv":1.6},{"p":2,"s":"med","V":17.40,"dv":4.4},
{"p":2,"s":"up","V":13.71,"dv":3.9},{"p":2,"s":"up","V":14.18,"dv":5.2},{"p":2,"s":"up","V":14.96,"dv":6.4},{"p":2,"s":"up","V":15.74,"dv":10.2},{"p":2,"s":"up","V":16.21,"dv":11.3},{"p":2,"s":"up","V":16.47,"dv":11.9},{"p":2,"s":"up","V":16.96,"dv":12.2},{"p":2,"s":"up","V":17.0,"dv":15.4},{"p":2,"s":"up","V":17.03,"dv":21.2},{"p":2,"s":"up","V":17.08,"dv":26.9},{"p":2,"s":"up","V":17.14,"dv":25.7},{"p":2,"s":"up","V":17.27,"dv":20.0},{"p":2,"s":"up","V":17.38,"dv":25.2},{"p":2,"s":"up","V":17.43,"dv":27.5},
{"p":2,"s":"lo","V":13.71,"dv":1.0},{"p":2,"s":"lo","V":14.18,"dv":-0.7},{"p":2,"s":"lo","V":14.96,"dv":-5.1},{"p":2,"s":"lo","V":15.74,"dv":-8.8},{"p":2,"s":"lo","V":16.21,"dv":-10.2},{"p":2,"s":"lo","V":16.47,"dv":-10.0},{"p":2,"s":"lo","V":16.73,"dv":-10.2},{"p":2,"s":"lo","V":16.99,"dv":-12.9},{"p":2,"s":"lo","V":17.12,"dv":-14.6},{"p":2,"s":"lo","V":17.25,"dv":-16.9},{"p":2,"s":"lo","V":17.33,"dv":-15.2},{"p":2,"s":"lo","V":17.40,"dv":-15.8}
]
},
"vconcat": [
{
"width": 577, "height": 288,
"resolve": {"axis": {"x": "independent", "y": "independent"}},
"layer": [
{"data": {"values": [{}]}, "mark": {"type": "rule", "color": "#8c8c8c", "strokeWidth": 2}, "encoding": {"y": {"datum": 0, "type": "quantitative", "scale": {"domain": [-50, 50], "nice": false}, "axis": null}}},
{"data": {"values": [{}]}, "mark": {"type": "rule", "color": "#666", "strokeWidth": 1.2, "strokeDash": [6, 4]}, "encoding": {"x": {"datum": 17, "type": "quantitative", "scale": {"domain": [10, 19], "nice": false, "zero": false}, "axis": null}}},
{"data": {"name": "pts"}, "transform": [{"filter": "datum.p == 1"}],
 "mark": {"type": "circle", "size": 16, "color": "#8a8a8a", "opacity": 1, "clip": true},
 "encoding": {
  "x": {"field": "V", "type": "quantitative", "scale": {"domain": [10, 19], "nice": false, "zero": false},
        "axis": {"orient": "bottom", "values": [10,11,12,13,14,15,16,17,18,19], "labels": false, "title": null, "offset": -7, "tickSize": 7}},
  "y": {"field": "dv", "type": "quantitative", "scale": {"domain": [-50, 50], "nice": false},
        "axis": {"orient": "left", "values": [-40,-20,0,20,40], "title": null, "labelExpr": "'' + datum.value", "labelPadding": 9, "offset": -8, "tickSize": 8}}
 }},
{"data": {"name": "lines"}, "transform": [{"filter": "datum.p == 1 && datum.s == 'med'"}],
 "mark": {"type": "line", "color": "#111", "strokeWidth": 2.2},
 "encoding": {
  "x": {"field": "V", "type": "quantitative", "axis": {"orient": "top", "values": [10,11,12,13,14,15,16,17,18,19], "labels": false, "title": null, "offset": -7, "tickSize": 7}},
  "y": {"field": "dv", "type": "quantitative", "axis": {"orient": "right", "values": [-40,-20,0,20,40], "labels": false, "title": null, "offset": -8, "tickSize": 8}}
 }},
{"data": {"name": "lines"}, "transform": [{"filter": "datum.p == 1 && datum.s == 'up'"}],
 "mark": {"type": "line", "color": "#111", "strokeWidth": 2.2, "strokeDash": [7, 5]},
 "encoding": {
  "x": {"field": "V", "type": "quantitative", "axis": {"orient": "bottom", "values": [10.5,11.5,12.5,13.5,14.5,15.5,16.5,17.5,18.5], "labels": false, "title": null, "offset": -4, "tickSize": 4}},
  "y": {"field": "dv", "type": "quantitative", "axis": {"orient": "left", "values": [-45,-35,-30,-25,-15,-10,-5,5,10,15,25,30,35,45], "labels": false, "title": null, "offset": -5, "tickSize": 5}}
 }},
{"data": {"name": "lines"}, "transform": [{"filter": "datum.p == 1 && datum.s == 'lo'"}],
 "mark": {"type": "line", "color": "#111", "strokeWidth": 2.2, "strokeDash": [7, 5]},
 "encoding": {
  "x": {"field": "V", "type": "quantitative", "axis": {"orient": "top", "values": [10.5,11.5,12.5,13.5,14.5,15.5,16.5,17.5,18.5], "labels": false, "title": null, "offset": -4, "tickSize": 4}},
  "y": {"field": "dv", "type": "quantitative", "axis": {"orient": "right", "values": [-45,-35,-30,-25,-15,-10,-5,5,10,15,25,30,35,45], "labels": false, "title": null, "offset": -5, "tickSize": 5}}
 }},
{"data": {"values": [{}]}, "mark": {"type": "text", "align": "left", "baseline": "middle", "font": "DejaVu Serif", "fontWeight": "bold", "fontSize": 19, "color": "#111"},
 "encoding": {"x": {"datum": 10.44, "type": "quantitative", "axis": null}, "y": {"datum": 40, "type": "quantitative", "axis": null}, "text": {"value": "47Tuc #1"}}},
{"data": {"values": [{}]}, "mark": {"type": "text", "align": "right", "baseline": "middle", "dx": -6, "font": "DejaVu Serif", "fontWeight": "bold", "fontSize": 20, "color": "#666"},
 "encoding": {"x": {"datum": 17, "type": "quantitative", "axis": null}, "y": {"datum": -38, "type": "quantitative", "axis": null}, "text": {"value": "MSTO"}}}
]
},
{
"width": 577, "height": 288,
"resolve": {"axis": {"x": "independent", "y": "independent"}},
"layer": [
{"data": {"values": [{}]}, "mark": {"type": "rule", "color": "#8c8c8c", "strokeWidth": 2}, "encoding": {"y": {"datum": 0, "type": "quantitative", "scale": {"domain": [-50, 50], "nice": false}, "axis": null}}},
{"data": {"values": [{}]}, "mark": {"type": "rule", "color": "#666", "strokeWidth": 1.2, "strokeDash": [6, 4]}, "encoding": {"x": {"datum": 17, "type": "quantitative", "scale": {"domain": [10, 19], "nice": false, "zero": false}, "axis": null}}},
{"data": {"name": "pts"}, "transform": [{"filter": "datum.p == 2"}],
 "mark": {"type": "circle", "size": 16, "color": "#8a8a8a", "opacity": 1, "clip": true},
 "encoding": {
  "x": {"field": "V", "type": "quantitative", "scale": {"domain": [10, 19], "nice": false, "zero": false},
        "axis": {"orient": "bottom", "values": [10,11,12,13,14,15,16,17,18,19], "labelExpr": "'' + datum.value", "labelPadding": 4, "title": "V [VEGAMAG]", "titleFont": "Liberation Serif", "titleFontSize": 24, "titleFontWeight": "normal", "titleColor": "#111", "titlePadding": 2, "offset": -7, "tickSize": 7}},
  "y": {"field": "dv", "type": "quantitative", "scale": {"domain": [-50, 50], "nice": false},
        "axis": {"orient": "left", "values": [-40,-20,0,20,40], "title": null, "labelExpr": "'' + datum.value", "labelPadding": 9, "offset": -8, "tickSize": 8}}
 }},
{"data": {"name": "lines"}, "transform": [{"filter": "datum.p == 2 && datum.s == 'med'"}],
 "mark": {"type": "line", "color": "#111", "strokeWidth": 2.2},
 "encoding": {
  "x": {"field": "V", "type": "quantitative", "axis": {"orient": "top", "values": [10,11,12,13,14,15,16,17,18,19], "labels": false, "title": null, "offset": -7, "tickSize": 7}},
  "y": {"field": "dv", "type": "quantitative", "axis": {"orient": "right", "values": [-40,-20,0,20,40], "labels": false, "title": null, "offset": -8, "tickSize": 8}}
 }},
{"data": {"name": "lines"}, "transform": [{"filter": "datum.p == 2 && datum.s == 'up'"}],
 "mark": {"type": "line", "color": "#111", "strokeWidth": 2.2, "strokeDash": [7, 5]},
 "encoding": {
  "x": {"field": "V", "type": "quantitative", "axis": {"orient": "bottom", "values": [10.5,11.5,12.5,13.5,14.5,15.5,16.5,17.5,18.5], "labels": false, "title": null, "offset": -4, "tickSize": 4}},
  "y": {"field": "dv", "type": "quantitative", "axis": {"orient": "left", "values": [-45,-35,-30,-25,-15,-10,-5,5,10,15,25,30,35,45], "labels": false, "title": null, "offset": -5, "tickSize": 5}}
 }},
{"data": {"name": "lines"}, "transform": [{"filter": "datum.p == 2 && datum.s == 'lo'"}],
 "mark": {"type": "line", "color": "#111", "strokeWidth": 2.2, "strokeDash": [7, 5]},
 "encoding": {
  "x": {"field": "V", "type": "quantitative", "axis": {"orient": "top", "values": [10.5,11.5,12.5,13.5,14.5,15.5,16.5,17.5,18.5], "labels": false, "title": null, "offset": -4, "tickSize": 4}},
  "y": {"field": "dv", "type": "quantitative", "axis": {"orient": "right", "values": [-45,-35,-30,-25,-15,-10,-5,5,10,15,25,30,35,45], "labels": false, "title": null, "offset": -5, "tickSize": 5}}
 }},
{"data": {"values": [{}]}, "mark": {"type": "text", "align": "left", "baseline": "middle", "font": "DejaVu Serif", "fontWeight": "bold", "fontSize": 19, "color": "#111"},
 "encoding": {"x": {"datum": 10.44, "type": "quantitative", "axis": null}, "y": {"datum": 39, "type": "quantitative", "axis": null}, "text": {"value": "47Tuc #2"}}}
]
}
],
"config": {
 "view": {"stroke": "#1a1a1a", "strokeWidth": 1.8},
 "axis": {"grid": false, "domain": false, "ticks": true, "tickColor": "#1a1a1a", "tickWidth": 1.5, "labelFont": "DejaVu Serif", "labelFontWeight": "bold", "labelFontSize": 12, "labelColor": "#111", "labelFlush": false, "labelOverlap": false}
}
}
